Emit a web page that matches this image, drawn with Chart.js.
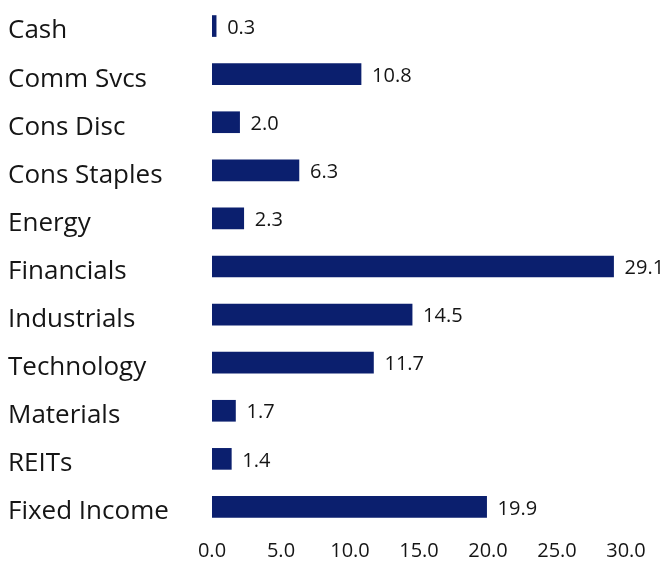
<!DOCTYPE html>
<html>
<head>
<meta charset="utf-8">
<script src="https://cdn.jsdelivr.net/npm/chart.js@4"></script>
<style>
  html, body { margin: 0; padding: 0; background: #fff; }
  #wrap { width: 666px; height: 565px; }
</style>
</head>
<body>
<div id="wrap"><canvas id="myChart"></canvas></div>
<script>
const sectors = ['Cash', 'Comm Svcs', 'Cons Disc', 'Cons Staples', 'Energy', 'Financials', 'Industrials', 'Technology', 'Materials', 'REITs', 'Fixed Income'];
const weights = [0.3, 10.8, 2.0, 6.3, 2.3, 29.1, 14.5, 11.7, 1.7, 1.4, 19.9];
const xTicks = [0, 5, 10, 15, 20, 25, 30];

const fontFamily = '"Open Sans", Lato, sans-serif';
const navy = '#0b1f6e';
const ink = '#151515';

// value after each bar + sector names left-aligned, sitting a bit below the bar centre
const textLabels = {
    id: 'textLabels',
    afterDatasetsDraw(chart) {
        const c = chart.ctx;
        const meta = chart.getDatasetMeta(0);
        const yScale = chart.scales.y;
        c.save();
        c.fillStyle = ink;
        c.textAlign = 'left';
        c.textBaseline = 'middle';
        c.font = '20px ' + fontFamily;
        meta.data.forEach((bar, i) => {
            c.fillText(weights[i].toFixed(1), bar.x + 11, bar.y + 2);
        });
        c.font = '26px ' + fontFamily;
        sectors.forEach((name, i) => {
            c.fillText(name, yScale.left, yScale.getPixelForTick(i) + 5);
        });
        c.restore();
    }
};

const ctx = document.getElementById('myChart');

new Chart(ctx, {
    type: 'bar',
    data: {
        labels: sectors,
        datasets: [{
            data: weights,
            backgroundColor: navy,
            barThickness: 21,
            borderWidth: 0
        }]
    },
    options: {
        indexAxis: 'y',
        responsive: true,
        maintainAspectRatio: false,
        animation: false,
        layout: { padding: { left: 8, right: 40, top: 2, bottom: 0 } },
        plugins: {
            legend: { display: false },
            tooltip: { enabled: false }
        },
        scales: {
            x: {
                min: 0,
                max: 30,
                afterBuildTicks: (scale) => { scale.ticks = xTicks.map(v => ({ value: v })); },
                afterFit: (scale) => { scale.height -= 6; },
                grid: { display: false, drawTicks: false },
                border: { display: false },
                ticks: {
                    padding: 8,
                    color: ink,
                    font: { family: fontFamily, size: 20 },
                    maxRotation: 0,
                    callback: (v) => Number(v).toFixed(1)
                }
            },
            y: {
                afterFit: (scale) => {
                    scale.width = 204;
                    scale.paddingTop = 0;
                    scale.paddingBottom = 0;
                },
                grid: { display: false, drawTicks: false },
                border: { display: false },
                ticks: { display: false }
            }
        }
    },
    plugins: [textLabels]
});
</script>
</body>
</html>
